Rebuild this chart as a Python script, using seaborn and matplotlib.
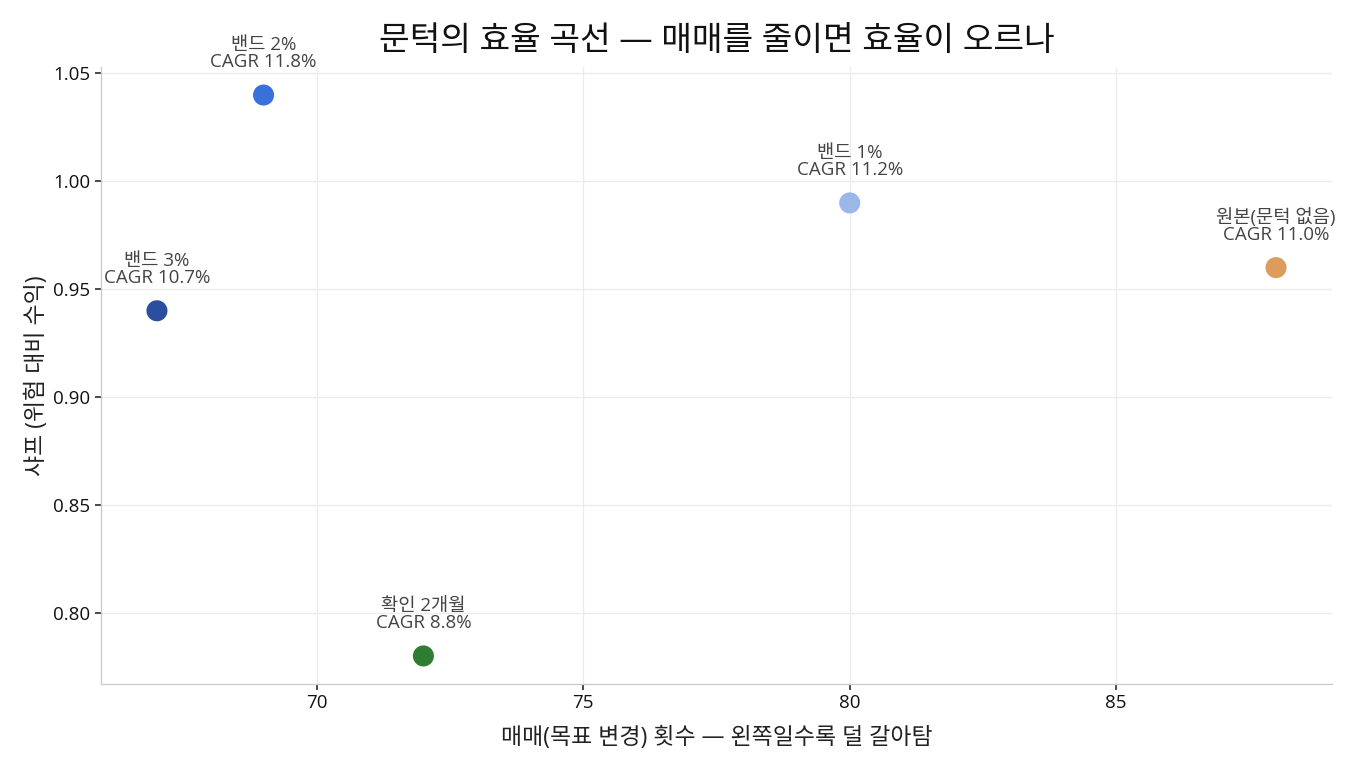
import matplotlib
matplotlib.use("Agg")
import matplotlib.pyplot as plt
import seaborn as sns
import pandas as pd

names = ["원본(문턱 없음)", "밴드 1%", "밴드 2%", "밴드 3%", "확인 2개월"]
trades = [88, 80, 69, 67, 72]
sharpe = [0.96, 0.99, 1.04, 0.94, 0.78]
cagr = [11.0, 11.2, 11.8, 10.7, 8.8]
colors = ["#dd9c5c", "#9bb7ea", "#3a70da", "#2b4ea0", "#2e7d32"]

df = pd.DataFrame({"name": names, "trades": trades, "sharpe": sharpe, "cagr": cagr})

sns.set_theme(style="whitegrid")
plt.rcParams['font.family'] = ['Open Sans', 'Noto Sans CJK KR', 'DejaVu Sans']

fig = plt.figure(figsize=(13.57, 7.65), dpi=100)
ax = fig.add_axes([101/1357, 1 - 684/765, (1332-101)/1357, (684-67)/765])

sns.scatterplot(data=df, x="trades", y="sharpe", hue="name", palette=dict(zip(names, colors)),
                s=230, edgecolor="none", legend=False, ax=ax, zorder=3)

for _, r in df.iterrows():
    ax.annotate(f"{r['name']}\nCAGR {r['cagr']:.1f}%", (r["trades"], r["sharpe"]),
                xytext=(0, 17), textcoords="offset points", ha="center", va="bottom",
                fontsize=13.5, color="#444444", linespacing=0.95)

ax.grid(True, color="#ececec", linewidth=1)
for s in ["top", "right"]:
    ax.spines[s].set_visible(False)
for s in ["left", "bottom"]:
    ax.spines[s].set_color("#cccccc")
    ax.spines[s].set_linewidth(1)
ax.tick_params(axis="both", which="both", length=4, color="#333333", labelsize=13.5, labelcolor="#111111", bottom=True, left=True)
ax.set_xticks([70, 75, 80, 85])
ax.set_yticks([0.80, 0.85, 0.90, 0.95, 1.00, 1.05])
ax.set_yticklabels([f"{v:.2f}" for v in [0.80, 0.85, 0.90, 0.95, 1.00, 1.05]])
ax.set_xlabel("매매(목표 변경) 횟수 — 왼쪽일수록 덜 갈아탐", fontsize=16.5, color="#222222", labelpad=10)
ax.set_ylabel("샤프 (위험 대비 수익)", fontsize=16.5, color="#222222", labelpad=3)
ax.set_title("문턱의 효율 곡선 — 매매를 줄이면 효율이 오르나", fontsize=24, color="#111111", pad=12)

fig.savefig("out.png", dpi=100)
